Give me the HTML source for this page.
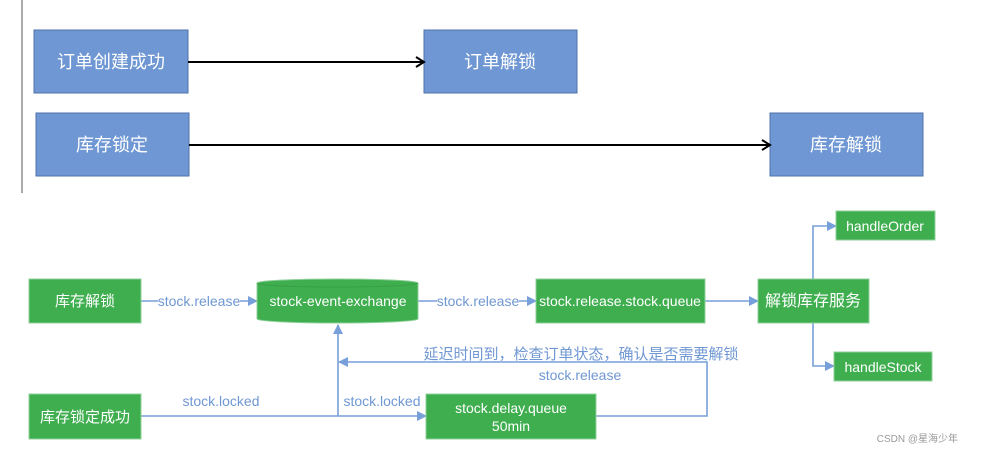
<!DOCTYPE html>
<html><head><meta charset="utf-8"><style>
body{margin:0;background:#fff;width:986px;height:453px;overflow:hidden}
svg{font-family:"Liberation Sans","Noto Sans CJK SC",sans-serif}
</style></head><body>
<svg width="986" height="453" viewBox="0 0 986 453" xmlns="http://www.w3.org/2000/svg">
<defs>
<marker id="ab" markerWidth="10" markerHeight="10" refX="9" refY="5" orient="auto" markerUnits="userSpaceOnUse"><path d="M0,0 L10,5 L0,10 z" fill="#779fd9"/></marker>
<marker id="ak" markerWidth="12" markerHeight="12" refX="10" refY="6" orient="auto" markerUnits="userSpaceOnUse"><path d="M2,1 L10,6 L2,11" fill="none" stroke="#000" stroke-width="2"/></marker>
</defs>
<line x1="22" y1="0" x2="22" y2="193" stroke="#aaa" stroke-width="2"/>
<g fill="#6f97d3" stroke="#4f72a8" stroke-width="1">
<rect x="34" y="30" width="154" height="63"/>
<rect x="424" y="30" width="153" height="63"/>
<rect x="36" y="113" width="153" height="63"/>
<rect x="770" y="113" width="153" height="63"/>
</g>
<g fill="#fff" font-size="18" text-anchor="middle">
<text x="111" y="68">订单创建成功</text>
<text x="500" y="68">订单解锁</text>
<text x="112" y="151">库存锁定</text>
<text x="846" y="151">库存解锁</text>
</g>
<line x1="188" y1="62" x2="424" y2="62" stroke="#000" stroke-width="2" marker-end="url(#ak)"/>
<line x1="189" y1="145" x2="770" y2="145" stroke="#000" stroke-width="2" marker-end="url(#ak)"/>

<g stroke="#779fd9" stroke-width="1.6" fill="none">
<line x1="141" y1="301" x2="257" y2="301" marker-end="url(#ab)"/>
<line x1="418" y1="301" x2="536" y2="301" marker-end="url(#ab)"/>
<line x1="705" y1="301" x2="758" y2="301" marker-end="url(#ab)"/>
<polyline points="813,279 813,226 836,226" marker-end="url(#ab)"/>
<polyline points="813,323 813,366 834,366" marker-end="url(#ab)"/>
<line x1="141" y1="416" x2="426" y2="416" marker-end="url(#ab)"/>
<line x1="338" y1="416" x2="338" y2="325" marker-end="url(#ab)"/>
<polyline points="596,416 707,416 707,362 339,362" marker-end="url(#ab)"/>
</g>
<g fill="#3fae4f" stroke="#8fd09a" stroke-width="1">
<rect x="29" y="279" width="112" height="44"/>
<rect x="536" y="279" width="169" height="44"/>
<rect x="758" y="279" width="111" height="44"/>
<rect x="836" y="211" width="99" height="29"/>
<rect x="834" y="352" width="98" height="29"/>
<rect x="29" y="394" width="112" height="45"/>
<rect x="426" y="394" width="170" height="45"/>
<path d="M257,283 A80.5,4 0 0 1 418,283 L418,319 A80.5,4 0 0 1 257,319 Z"/>
</g>
<path d="M257,283 A80.5,4 0 0 0 418,283" fill="none" stroke="#36a046" stroke-width="1"/>
<g fill="#fff" font-size="14" text-anchor="middle">
<text x="85" y="306" font-size="15">库存解锁</text>
<text x="338" y="306">stock-event-exchange</text>
<text x="620" y="306">stock.release.stock.queue</text>
<text x="813" y="306" font-size="16">解锁库存服务</text>
<text x="885" y="231">handleOrder</text>
<text x="883" y="372">handleStock</text>
<text x="85" y="422" font-size="15">库存锁定成功</text>
<text x="511" y="413">stock.delay.queue</text>
<text x="511" y="431">50min</text>
</g>
<g fill="#6f97d3" font-size="14" text-anchor="middle">
<rect x="158" y="292" width="82" height="18" fill="#fff"/>
<text x="199" y="306">stock.release</text>
<rect x="437" y="292" width="82" height="18" fill="#fff"/>
<text x="478" y="306">stock.release</text>
<text x="221" y="406">stock.locked</text>
<text x="382" y="406">stock.locked</text>
<text x="581" y="359" font-size="15">延迟时间到，检查订单状态，确认是否需要解锁</text>
<text x="580" y="380">stock.release</text>
</g>
<text x="958" y="442" font-size="10" fill="#999" text-anchor="end">CSDN @星海少年</text>
</svg>
</body></html>
